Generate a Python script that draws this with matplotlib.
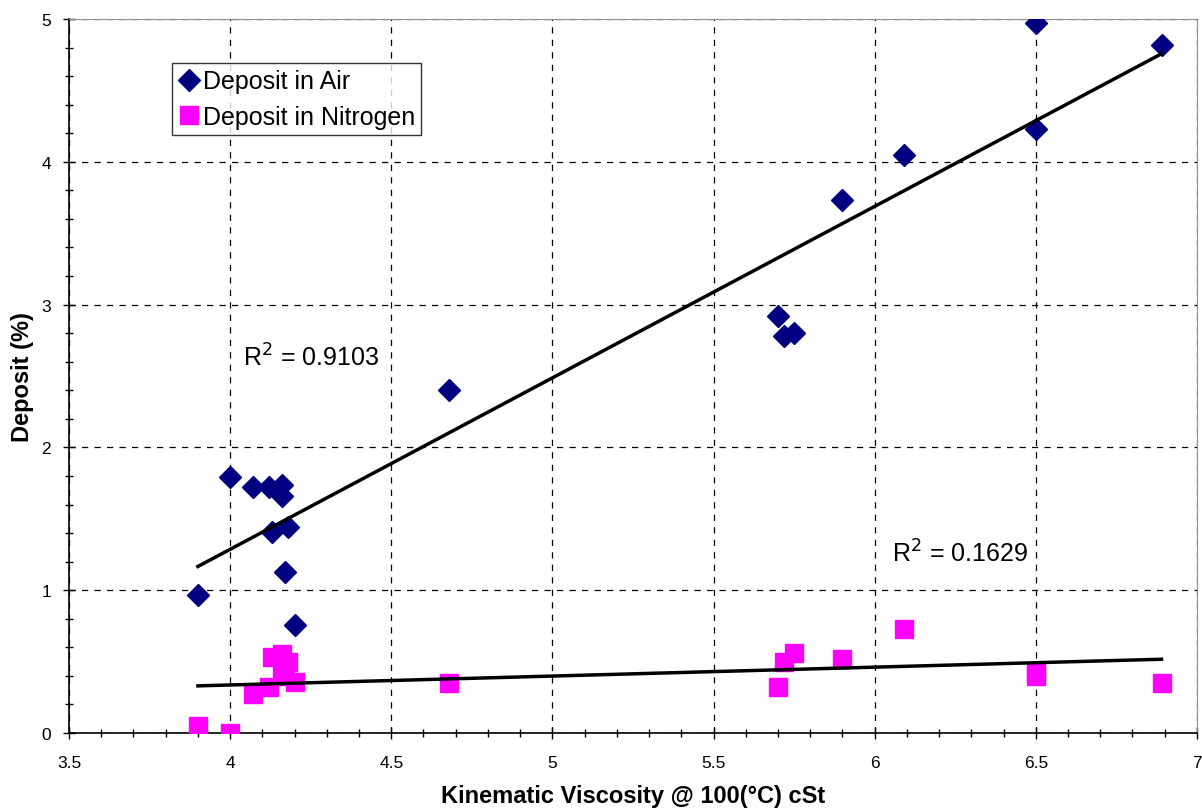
import numpy as np
import matplotlib
matplotlib.use("Agg")
import matplotlib.pyplot as plt
from matplotlib.ticker import MultipleLocator

plt.rcParams['font.family'] = ['Liberation Sans', 'DejaVu Sans']

# Deposit in air
air_x = [3.90, 4.00, 4.07, 4.12, 4.16, 4.16, 4.13, 4.18, 4.17, 4.20,
         4.68, 5.70, 5.72, 5.75, 5.90, 6.09, 6.50, 6.50, 6.89]
air_y = [0.97, 1.79, 1.72, 1.72, 1.74, 1.66, 1.41, 1.44, 1.13, 0.76,
         2.40, 2.92, 2.78, 2.80, 3.73, 4.05, 4.97, 4.23, 4.82]

# Deposit in nitrogen
n2_x = [3.90, 4.00, 4.07, 4.12, 4.13, 4.16, 4.16, 4.17, 4.18, 4.20,
        4.68, 5.70, 5.72, 5.75, 5.90, 6.09, 6.50, 6.50, 6.89]
n2_y = [0.05, 0.00, 0.27, 0.32, 0.53, 0.55, 0.43, 0.40, 0.50, 0.36,
        0.35, 0.32, 0.50, 0.56, 0.52, 0.73, 0.43, 0.40, 0.35]

fig = plt.figure(figsize=(12.02, 8.12), dpi=100)
ax = fig.add_axes([0.0574, 0.096, 0.9384, 0.8794])

ax.plot(air_x, air_y, 'D', color='#000080', markersize=11.5, linestyle='none',
        label='Deposit in Air', zorder=3)
ax.plot(n2_x, n2_y, 's', color='#FF00FF', markersize=13, linestyle='none',
        label='Deposit in Nitrogen', zorder=3)

# linear trend lines
for xs, ys in [(air_x, air_y), (n2_x, n2_y)]:
    k, b = np.polyfit(xs, ys, 1)
    xl = np.array([min(xs), max(xs)])
    ax.plot(xl, k * xl + b, color='black', lw=2.5, zorder=4)

ax.text(4.04, 2.63, 'R$^2$ = 0.9103', fontsize=18, va='center', ha='left')
ax.text(6.055, 1.26, 'R$^2$ = 0.1629', fontsize=18, va='center', ha='left')

ax.set_xlim(3.5, 7)
ax.set_ylim(0, 5)
ax.xaxis.set_major_locator(MultipleLocator(0.5))
ax.xaxis.set_minor_locator(MultipleLocator(0.1))
ax.yaxis.set_major_locator(MultipleLocator(1))
ax.yaxis.set_minor_locator(MultipleLocator(0.2))
ax.xaxis.set_major_formatter(plt.FuncFormatter(lambda v, p: f'{v:g}'))

ax.grid(True, which='major', color='black', linestyle=(0, (5, 5)), lw=0.9)
ax.tick_params(which='both', direction='inout', length=8, width=1, labelsize=12.5)
ax.tick_params(which='minor', length=6)
ax.tick_params(axis='x', pad=12)
ax.tick_params(axis='y', pad=9)
for s in ['top', 'right']:
    ax.spines[s].set_color('#909090')
for s in ['left', 'bottom']:
    ax.spines[s].set_linewidth(1.2)

ax.set_xlabel('Kinematic Viscosity @ 100(°C) cSt', fontsize=17, fontweight='bold', labelpad=10)
ax.set_ylabel('Deposit (%)', fontsize=17, fontweight='bold', labelpad=5)

leg = ax.legend(loc='upper left', bbox_to_anchor=(0.091, 0.938), borderaxespad=0,
                fontsize=18, frameon=True, fancybox=False, edgecolor='black',
                handletextpad=0.1, handlelength=0.9, borderpad=0.25, labelspacing=0.45)
leg.get_frame().set_linewidth(1.0)

fig.savefig('out.png', dpi=100)
